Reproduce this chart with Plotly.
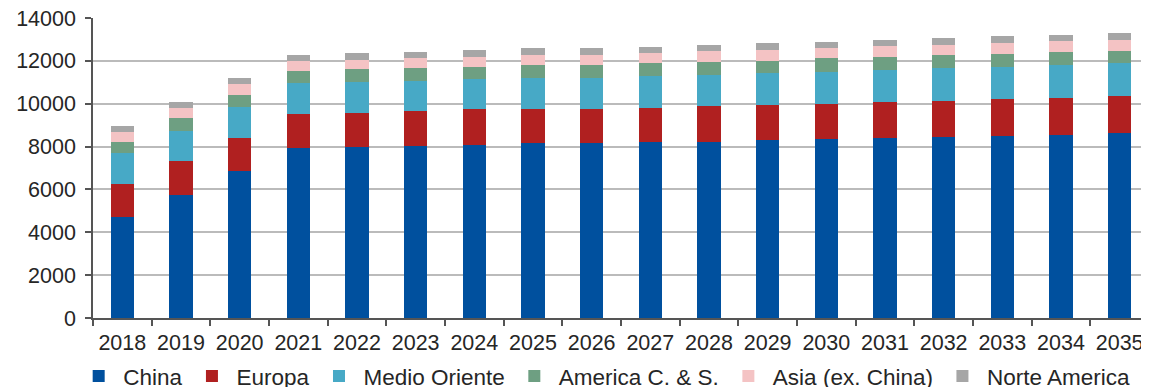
import plotly.graph_objects as go

years = [str(y) for y in range(2018, 2036)]

china = [4700, 5755, 6860, 7950, 7995, 8030, 8090, 8150, 8155, 8200, 8230, 8290, 8340, 8390, 8435, 8495, 8555, 8620]
europa = [1570, 1590, 1555, 1570, 1570, 1630, 1650, 1600, 1600, 1615, 1650, 1650, 1660, 1675, 1710, 1710, 1710, 1725]
medio_oriente = [1420, 1400, 1430, 1430, 1460, 1415, 1400, 1460, 1460, 1465, 1460, 1480, 1495, 1525, 1510, 1510, 1525, 1540]
america_cs = [515, 605, 560, 575, 580, 580, 590, 580, 580, 605, 605, 590, 620, 590, 605, 620, 605, 590]
asia_ex_china = [480, 450, 500, 467, 450, 480, 467, 480, 480, 480, 498, 515, 467, 498, 482, 482, 514, 513]
norte_america = [295, 280, 280, 280, 297, 280, 312, 311, 311, 295, 295, 295, 311, 310, 310, 326, 309, 299]

series = [
    ("China", china, "#00509E"),
    ("Europa", europa, "#B02020"),
    ("Medio Oriente", medio_oriente, "#47A9C6"),
    ("America C. & S.", america_cs, "#6E9F82"),
    ("Asia (ex. China)", asia_ex_china, "#F4C3C4"),
    ("Norte America", norte_america, "#A6A6A6"),
]

y_ticks = [0, 2000, 4000, 6000, 8000, 10000, 12000, 14000]

fig = go.Figure()
for name, vals, color in series:
    fig.add_trace(go.Bar(x=years, y=vals, name=name, marker=dict(color=color, line=dict(width=0))))

tick_font = dict(family="Liberation Sans, Arial, sans-serif", size=21.5, color="#262626")

# The page body has an 8px margin, so the figure is drawn 8px right and down.
fig.update_layout(
    barmode="stack",
    bargap=0.6,
    width=1141,
    height=379,
    margin=dict(l=85, r=0, t=10, b=69),
    paper_bgcolor="white",
    plot_bgcolor="white",
    font=tick_font,
    showlegend=True,
    legend=dict(
        orientation="h",
        traceorder="normal",
        xref="container",
        yref="container",
        x=0.058,
        xanchor="left",
        y=0.085,
        yanchor="top",
        font=dict(family="Liberation Sans, Arial, sans-serif", size=22.5, color="#262626"),
        itemwidth=39,
        tracegroupgap=0,
    ),
    xaxis=dict(
        type="category",
        automargin=False,
        showline=True,
        linecolor="#555555",
        linewidth=1.5,
        ticks="outside",
        tickson="boundaries",
        ticklen=6,
        tickcolor="#555555",
        tickwidth=1.5,
        showgrid=False,
        tickfont=tick_font,
        ticklabelstandoff=4,
        ticklabeloverflow="allow",
    ),
    yaxis=dict(
        range=[0, 14000],
        automargin=False,
        tickvals=y_ticks,
        ticktext=[str(v) for v in y_ticks],
        showline=True,
        linecolor="#555555",
        linewidth=1.5,
        ticks="outside",
        ticklen=6,
        tickcolor="#555555",
        tickwidth=1.5,
        showgrid=True,
        gridcolor="#BBBBBB",
        gridwidth=2,
        zeroline=False,
        tickfont=tick_font,
        ticklabelstandoff=5,
        ticklabeloverflow="allow",
    ),
)

fig.write_html("out.html")
